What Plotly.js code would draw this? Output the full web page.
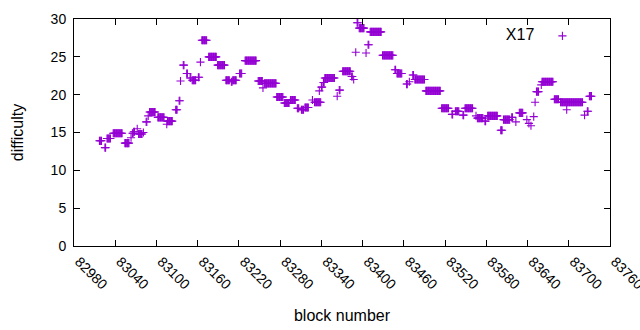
<!DOCTYPE html>
<html>
<head>
<meta charset="utf-8">
<script src="https://cdn.plot.ly/plotly-3.0.1.min.js"></script>
<style>html,body{margin:0;padding:0;background:#fff;}#chart{width:640px;height:330px;}</style>
</head>
<body>
<div id="chart"></div>
<script>
// Runs of consecutive blocks sharing one difficulty value
var runStart = [83017,83025,83028,83037,83054,83063,83065,83067,83072,83074,83081,83085,83088,83090,83102,83115,83116,83128,83133,83135,83139,83144,83149,83152,83161,83164,83166,83176,83189,83201,83209,83211,83221,83229,83248,83255,83257,83275,83286,83295,83305,83311,83316,83327,83330,83337,83340,83343,83345,83363,83366,83371,83384,83387,83390,83392,83395,83405,83408,83411,83429,83447,83450,83464,83468,83473,83476,83492,83515,83530,83535,83546,83549,83565,83567,83578,83582,83601,83605,83617,83623,83628,83639,83642,83645,83649,83651,83653,83660,83661,83679,83688,83697,83723,83727,83730];
var runLen   = [4,2,6,14,7,1,2,2,1,6,1,2,1,9,10,1,8,3,2,1,2,2,2,6,2,1,8,12,11,6,2,6,4,17,7,1,18,10,8,8,3,4,6,1,10,1,2,2,15,1,2,12,2,1,1,2,8,1,2,17,16,2,8,2,1,2,15,22,11,2,6,2,12,1,9,2,15,3,10,2,1,6,1,1,1,1,1,4,1,17,7,33,1,1,2,4];
var runDiff  = [13.9,13.0,14.2,14.9,13.6,14.3,14.9,15.1,15.5,14.8,15.0,16.4,17.2,17.7,17.0,16.1,16.5,18.0,19.2,21.8,23.9,22.8,22.2,21.9,22.3,24.3,27.2,25.0,23.9,21.9,21.7,21.9,22.8,24.5,21.8,20.9,21.5,19.7,18.9,19.3,18.2,18.0,18.3,19.3,19.0,20.5,21.0,21.6,22.2,19.8,20.6,23.1,22.4,22.0,25.6,29.5,28.8,25.5,26.6,28.3,25.2,23.3,22.8,21.4,21.7,22.6,22.0,20.5,18.2,17.4,17.8,17.3,18.2,17.2,16.9,16.5,17.2,15.3,16.7,17.0,16.4,17.6,16.7,16.2,15.9,17.1,19.0,20.4,21.3,21.7,19.4,19.0,18.0,17.3,17.8,19.8];
var seriesName = "X17";
var xTitle = "block number";
var yTitle = "difficulty";

var xs = [], ys = [];
for (var i = 0; i < runStart.length; i++) {
  for (var k = 0; k < runLen[i]; k++) { xs.push(runStart[i] + k); ys.push(runDiff[i]); }
}

var tickFont = {family: "Liberation Sans, Arial, sans-serif", size: 14, color: "#000"};
var titleFont = {family: "Liberation Sans, Arial, sans-serif", size: 16, color: "#000"};
var data = [{
  x: xs, y: ys, type: "scatter", mode: "markers", name: " ",
  marker: {symbol: "cross-thin", size: 5.8, color: "#9400D3", line: {color: "#9400D3", width: 1.1}},
  showlegend: true
}];
var layout = {
  width: 640, height: 330,
  margin: {l: 74, r: 30, t: 19, b: 84},
  paper_bgcolor: "#fff", plot_bgcolor: "#fff",
  font: tickFont,
  showlegend: true,
  legend: {x: 0.968, y: 1.0, xanchor: "right", yanchor: "top", bgcolor: "rgba(0,0,0,0)",
           title: {text: seriesName, side: "left", font: titleFont}, font: titleFont},
  xaxis: {range: [82980, 83760], tick0: 82980, dtick: 60, tickformat: "d", tickangle: 45,
          ticklabeloverflow: "allow", ticklabelshift: 5, ticklabelstandoff: 1,
          ticks: "inside", ticklen: 6, tickcolor: "#000", mirror: "allticks", showline: true,
          linecolor: "#000", linewidth: 1, showgrid: false, zeroline: false,
          tickfont: tickFont, title: {text: xTitle, font: titleFont, standoff: 18}, automargin: false},
  yaxis: {range: [0, 30], tick0: 0, dtick: 5, ticks: "inside", ticklen: 6, tickcolor: "#000",
          ticklabelstandoff: 4,
          mirror: "allticks", showline: true, linecolor: "#000", linewidth: 1, showgrid: false,
          zeroline: false, tickfont: tickFont, title: {text: yTitle, font: titleFont, standoff: 23}, automargin: false}
};
Plotly.newPlot("chart", data, layout, {staticPlot: true, displayModeBar: false});
</script>
</body>
</html>
